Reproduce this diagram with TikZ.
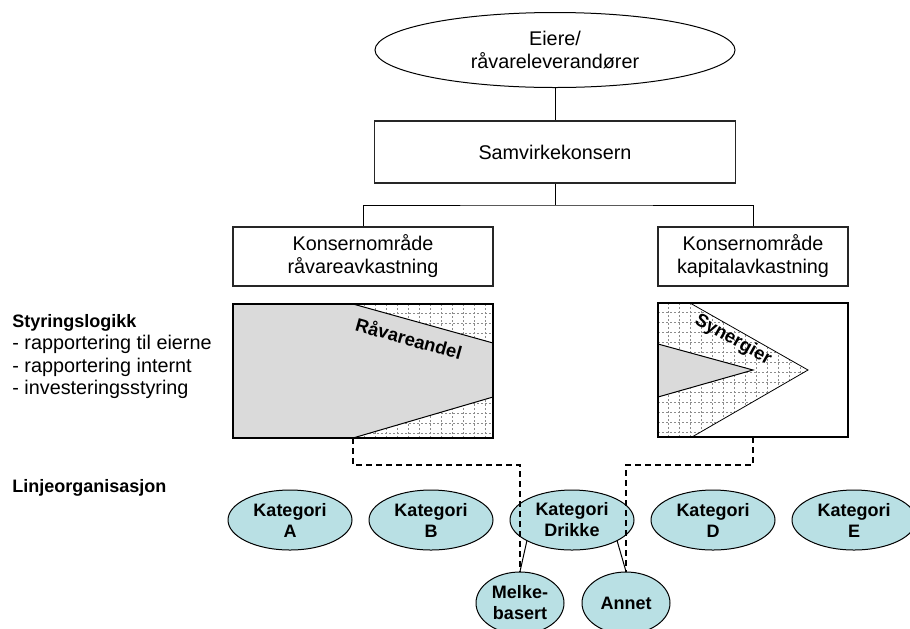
\documentclass[tikz,border=0pt]{standalone}
\usepackage{fontspec}
\setmainfont{Liberation Sans}
\usepackage{tikz}
\usetikzlibrary{shapes.geometric}
\definecolor{catfill}{RGB}{185,224,228}
\definecolor{sharefill}{RGB}{218,218,218}
\tikzstyle{owner} = [ellipse, draw=black, line width=0.5pt, minimum width=180pt, minimum height=37.5pt, inner sep=0pt, align=center, font=\fontsize{9.9}{11.5}\selectfont]
\tikzstyle{unitbox} = [rectangle, draw=black!85, line width=0.6pt, inner sep=0pt, align=center, font=\fontsize{9.9}{11.5}\selectfont]
\tikzstyle{logicbox} = [rectangle, draw=black, line width=0.7pt, inner sep=0pt]
\tikzstyle{catnode} = [ellipse, draw=black, fill=catfill, line width=0.5pt, minimum width=62pt, minimum height=30pt, inner sep=0pt, align=center, font=\bfseries\fontsize{9}{10.5}\selectfont]
\tikzstyle{subnode} = [catnode, minimum width=44pt, minimum height=31pt]
\tikzstyle{tree} = [line width=0.5pt]
\tikzstyle{dashline} = [line width=1pt, dash pattern=on 3pt off 2pt]
\tikzstyle{gridline} = [black!45, line width=0.25pt, dash pattern=on 1pt off 1pt]
\tikzstyle{sharearea} = [fill=sharefill, draw=black, line width=0.5pt]
\tikzstyle{tagtext} = [inner sep=0pt, font=\bfseries\fontsize{9.2}{11}\selectfont]

\begin{document}
\begin{tikzpicture}[x=0.5pt, y=-0.5pt]
\useasboundingbox (0,0) rectangle (910,628);
\node[owner] (owners) at (555,50) {Eiere/\\råvareleverandører};
\node[unitbox, minimum width=180.5pt, minimum height=31pt] (group) at (555,152) {Samvirkekonsern};
\node[unitbox, minimum width=130pt, minimum height=29.5pt] (areaL) at (363,256.5) {Konsernområde\\råvareavkastning};
\node[unitbox, minimum width=95pt, minimum height=29.5pt] (areaR) at (753,256.5) {Konsernområde\\kapitalavkastning};
\coordinate (split) at (555,205);
\draw[tree] (owners) -- (group);
\draw[tree] (group) -- (split);
\draw[tree] (areaL.north) |- (split) -| (areaR.north);

\begin{scope}
\clip (233,304) rectangle (493,438);
\foreach \gx in {243,254,...,493} \draw[gridline] (\gx,304) -- (\gx,438);
\foreach \gy in {313,323,...,438} \draw[gridline] (233,\gy) -- (493,\gy);
\end{scope}
\draw[sharearea] (233,304) -- (353,304) -- (493,343) -- (493,397) -- (353,438) -- (233,438) -- cycle;
\node[logicbox, minimum width=130pt, minimum height=67pt] (logicL) at (363,371) {};
\node[tagtext, rotate=-15.6] (shareL) at (409,338) {Råvareandel};

\begin{scope}
\clip (658,303) -- (690,303) -- (808,370) -- (692,437) -- (658,437) -- cycle;
\foreach \gx in {668,679,...,808} \draw[gridline] (\gx,303) -- (\gx,437);
\foreach \gy in {312,322,...,437} \draw[gridline] (658,\gy) -- (808,\gy);
\end{scope}
\draw[line width=0.4pt] (690,303) -- (808,370) -- (692,437);
\draw[sharearea] (658,344) -- (753,370) -- (658,397) -- cycle;
\node[logicbox, minimum width=95pt, minimum height=67pt] (logicR) at (753,370) {};
\node[tagtext, rotate=-29.6] (synergy) at (733,340) {Synergier};

\node[anchor=north west, align=left, inner sep=0pt, font=\fontsize{9.9}{11.25}\selectfont] (logicText) at (12,314)
  {{\bfseries\fontsize{9}{11.25}\selectfont Styringslogikk}\\- rapportering til eierne\\- rapportering internt\\- investeringsstyring};
\node[anchor=base west, inner sep=0pt, font=\bfseries\fontsize{9}{11}\selectfont] (lineText) at (12,492) {Linjeorganisasjon};

\node[catnode] (catA) at (290,520) {Kategori\\A};
\node[catnode] (catB) at (431,520) {Kategori\\B};
\node[catnode] (catDrikke) at (572,520) {Kategori\\Drikke};
\node[catnode] (catD) at (713,520) {Kategori\\D};
\node[catnode] (catE) at (854,520) {Kategori\\E};
\node[subnode] (milk) at (520,603) {Melke-\\basert};
\node[subnode] (other) at (626,603) {Annet};
\draw[tree] (catDrikke.205) -- (milk.north);
\draw[tree] (catDrikke.335) -- (other.north);

\coordinate (tipL) at (353,438);
\coordinate (tipR) at (753,437);
\draw[dashline] (tipL) -- ++(0,27) -| (milk.north);
\draw[dashline] (tipR) -- ++(0,28) -| (other.north);
\end{tikzpicture}
\end{document}
